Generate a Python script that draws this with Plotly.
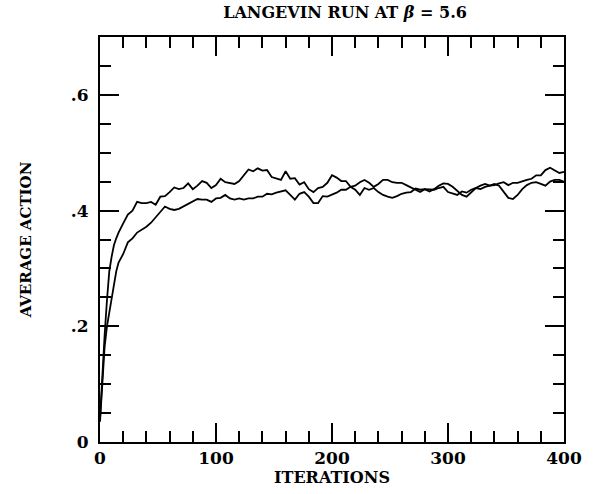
import plotly.graph_objects as go

iterations = [0, 1, 2, 3, 4, 6, 8, 10, 12, 14, 16, 20, 24, 28, 32] + list(range(36, 401, 4))

run_a = [0.040, 0.080, 0.115, 0.145, 0.185, 0.245, 0.295, 0.320, 0.340, 0.352, 0.362, 0.378, 0.393, 0.400, 0.415,
         0.413, 0.413, 0.415, 0.410, 0.424, 0.425, 0.432, 0.440, 0.437, 0.439, 0.447, 0.437, 0.443, 0.451, 0.448,
         0.439, 0.444, 0.455, 0.449, 0.448, 0.446, 0.451, 0.461, 0.471, 0.468, 0.473, 0.469, 0.470, 0.458, 0.455,
         0.453, 0.468, 0.455, 0.456, 0.445, 0.449, 0.437, 0.432, 0.439, 0.441, 0.448, 0.461, 0.457, 0.451, 0.451,
         0.441, 0.436, 0.427, 0.439, 0.436, 0.439, 0.432, 0.427, 0.424, 0.422, 0.425, 0.429, 0.431, 0.432, 0.438,
         0.436, 0.437, 0.433, 0.437, 0.443, 0.447, 0.446, 0.441, 0.434, 0.427, 0.424, 0.432, 0.439, 0.443, 0.446,
         0.443, 0.446, 0.443, 0.432, 0.422, 0.420, 0.427, 0.437, 0.444, 0.448, 0.449, 0.446, 0.443, 0.450, 0.453,
         0.453, 0.450]

run_b = [0.035, 0.065, 0.105, 0.140, 0.165, 0.200, 0.225, 0.247, 0.275, 0.295, 0.310, 0.325, 0.345, 0.352, 0.362,
         0.367, 0.372, 0.379, 0.389, 0.398, 0.407, 0.403, 0.401, 0.403, 0.407, 0.412, 0.415, 0.420, 0.419, 0.419,
         0.415, 0.421, 0.422, 0.427, 0.421, 0.419, 0.421, 0.419, 0.421, 0.421, 0.424, 0.424, 0.429, 0.428, 0.431,
         0.433, 0.435, 0.427, 0.419, 0.429, 0.432, 0.424, 0.413, 0.413, 0.425, 0.424, 0.427, 0.431, 0.436, 0.436,
         0.441, 0.443, 0.449, 0.453, 0.448, 0.441, 0.446, 0.453, 0.453, 0.449, 0.448, 0.448, 0.444, 0.440, 0.436,
         0.432, 0.437, 0.436, 0.436, 0.439, 0.441, 0.432, 0.430, 0.427, 0.433, 0.431, 0.436, 0.439, 0.437, 0.441,
         0.443, 0.444, 0.447, 0.449, 0.444, 0.448, 0.448, 0.451, 0.453, 0.455, 0.461, 0.461, 0.470, 0.474, 0.470,
         0.465, 0.467]

x_ticks = [0, 100, 200, 300, 400]
y_ticks = [0, 0.2, 0.4, 0.6]
y_tick_text = ["0", ".2", ".4", ".6"]
x_minor_ticks = [20, 40, 60, 80, 120, 140, 160, 180, 220, 240, 260, 280, 320, 340, 360, 380]
y_minor_ticks = [0.05, 0.1, 0.15, 0.25, 0.3, 0.35, 0.45, 0.5, 0.55, 0.65]
x_range = [0, 400]
y_range = [0, 0.7]

FONT = "DejaVu Serif"
tickfont = dict(family=FONT, size=17, color="black", weight="bold")

fig = go.Figure()
for ys in (run_a, run_b):
    fig.add_trace(go.Scatter(x=iterations, y=ys, mode="lines",
                             line=dict(color="black", width=1.8), showlegend=False, hoverinfo="skip"))
# faint copies so the extra tick-only axes have data and get drawn
for ax_x, ax_y in (("x2", "y2"), ("x3", "y3"), ("x4", "y4")):
    fig.add_trace(go.Scatter(x=iterations, y=run_a, xaxis=ax_x, yaxis=ax_y, mode="lines",
                             line=dict(color="black", width=1.8), opacity=0.0, showlegend=False,
                             hoverinfo="skip"))

major_style = dict(ticks="inside", ticklen=19, tickwidth=2, tickcolor="black",
                   showgrid=False, zeroline=False)
minor_style = dict(ticks="inside", ticklen=11, tickwidth=2, tickcolor="black",
                   showgrid=False, zeroline=False, showticklabels=False, showline=False)

fig.update_layout(
    width=600, height=494,
    margin=dict(l=100, r=36, t=37, b=50),
    paper_bgcolor="white", plot_bgcolor="white",
    title=dict(text="LANGEVIN RUN AT <i>β</i> = 5.6", x=0.575, xanchor="center",
               y=1 - 12 / 494, yanchor="middle",
               font=dict(family=FONT, size=16, color="black", weight="bold")),
    xaxis=dict(range=x_range, tickvals=x_ticks,
               showline=True, linecolor="black", linewidth=2, mirror=True,
               tickfont=tickfont,
               title=dict(text="ITERATIONS", font=dict(family=FONT, size=16, color="black", weight="bold"),
                          standoff=2),
               **major_style),
    yaxis=dict(range=y_range, tickvals=y_ticks, ticktext=y_tick_text,
               showline=True, linecolor="black", linewidth=2, mirror=True,
               tickfont=tickfont, ticklabelstandoff=6,
               title=dict(text="AVERAGE ACTION", font=dict(family=FONT, size=15, color="black", weight="bold"),
                          standoff=36),
               **major_style),
    # top / right major ticks
    xaxis2=dict(range=x_range, tickvals=x_ticks, overlaying="x", side="top",
                anchor="y2", showticklabels=False, showline=False, **major_style),
    yaxis2=dict(range=y_range, tickvals=y_ticks, overlaying="y", side="right",
                anchor="x2", showticklabels=False, showline=False, **major_style),
    # top / right minor ticks
    xaxis3=dict(range=x_range, tickvals=x_minor_ticks, overlaying="x", side="top",
                anchor="y3", **minor_style),
    yaxis3=dict(range=y_range, tickvals=y_minor_ticks, overlaying="y", side="right",
                anchor="x3", **minor_style),
    # bottom / left minor ticks
    xaxis4=dict(range=x_range, tickvals=x_minor_ticks, overlaying="x", side="bottom",
                anchor="y4", **minor_style),
    yaxis4=dict(range=y_range, tickvals=y_minor_ticks, overlaying="y", side="left",
                anchor="x4", **minor_style),
)

fig.write_html("out.html")
